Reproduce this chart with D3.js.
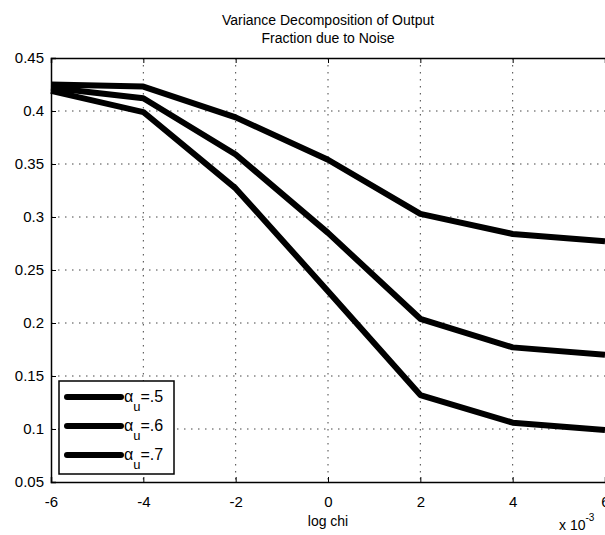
<!DOCTYPE html>
<html>
<head>
<meta charset="utf-8">
<script src="https://cdn.jsdelivr.net/npm/d3@7"></script>
<style>
  body { margin: 0; background: #fff; }
  svg { display: block; font-family: "Liberation Sans", Arial, sans-serif; }
  .grid line { stroke: #444; stroke-width: 1; stroke-dasharray: 1.5,5.5; }
</style>
</head>
<body>
<div id="chart"></div>
<script>
var xValues = [-6, -4, -2, 0, 2, 4, 6];
var alpha5 = [0.425, 0.423, 0.394, 0.354, 0.303, 0.284, 0.277];
var alpha6 = [0.422, 0.412, 0.359, 0.285, 0.204, 0.177, 0.170];
var alpha7 = [0.419, 0.399, 0.327, 0.230, 0.132, 0.106, 0.099];
var seriesNames = [".5", ".6", ".7"];
var xTicks = [-6, -4, -2, 0, 2, 4, 6];
var yTicks = [0.05, 0.1, 0.15, 0.2, 0.25, 0.3, 0.35, 0.4, 0.45];

var width = 605, height = 535;
var margin = {top: 58, right: 0, bottom: 53, left: 51};

var svg = d3.select('#chart').append('svg')
    .attr('width', width)
    .attr('height', height);

var x = d3.scaleLinear().domain([-6, 6]).range([margin.left, 605]);
var y = d3.scaleLinear().domain([0.05, 0.45]).range([height - margin.bottom, margin.top]);

// grid
var grid = svg.append('g').attr('class', 'grid');
grid.selectAll('.gx').data(xTicks.slice(1, -1)).enter().append('line')
    .attr('x1', function(d) { return x(d); }).attr('x2', function(d) { return x(d); })
    .attr('y1', y(0.45)).attr('y2', y(0.05));
grid.selectAll('.gy').data(yTicks.slice(1, -1)).enter().append('line')
    .attr('y1', function(d) { return y(d); }).attr('y2', function(d) { return y(d); })
    .attr('x1', x(-6)).attr('x2', x(6));

// lines
var series = [alpha5, alpha6, alpha7];
var line = d3.line()
    .x(function(d, i) { return x(xValues[i]); })
    .y(function(d) { return y(d); });

svg.selectAll('.series').data(series).enter().append('path')
    .attr('class', 'series')
    .attr('d', line)
    .attr('fill', 'none')
    .attr('stroke', '#000')
    .attr('stroke-width', 6)
    .attr('stroke-linejoin', 'round');

// axes (ticks inward, like matlab)
var xAxis = d3.axisBottom(x).tickValues(xTicks).tickSize(-5).tickPadding(14)
    .tickFormat(function(d) { return d; });
var yAxis = d3.axisLeft(y).tickValues(yTicks).tickSize(-5).tickPadding(7)
    .tickFormat(function(d) { return d3.format('')(+d.toFixed(2)); });
var xTop = d3.axisTop(x).tickValues(xTicks).tickSize(-5).tickFormat('');

svg.append('g')
    .attr('transform', 'translate(0,' + y(0.05) + ')')
    .call(xAxis);
svg.append('g')
    .attr('transform', 'translate(' + x(-6) + ',0)')
    .call(yAxis);
svg.append('g')
    .attr('transform', 'translate(0,' + y(0.45) + ')')
    .call(xTop);

svg.selectAll('.domain').attr('stroke', '#000').attr('stroke-width', 1.5);
svg.selectAll('.tick line').attr('stroke', '#000');
svg.selectAll('.tick text').attr('font-size', 15).attr('fill', '#000')
    .attr('font-family', '"Liberation Sans", Arial, sans-serif');

// title
var title = svg.append('text')
    .attr('text-anchor', 'middle')
    .attr('font-size', 14)
    .attr('x', 328);
title.append('tspan').attr('x', 328).attr('y', 25).text('Variance Decomposition of Output');
title.append('tspan').attr('x', 328).attr('y', 43).text('Fraction due to Noise');

// x label
svg.append('text')
    .attr('x', 328).attr('y', 526)
    .attr('text-anchor', 'middle')
    .attr('font-size', 14)
    .text('log chi');

var mult = svg.append('text')
    .attr('x', 559).attr('y', 530)
    .attr('font-size', 14);
mult.append('tspan').text('x 10');
mult.append('tspan').attr('dy', -9).attr('font-size', 10).text('-3');

// legend
var legend = svg.append('g');
legend.append('rect')
    .attr('x', 59).attr('y', 381)
    .attr('width', 115).attr('height', 93)
    .attr('fill', '#fff')
    .attr('stroke', '#000')
    .attr('stroke-width', 1.5);

var items = legend.selectAll('.item').data(seriesNames).enter().append('g')
    .attr('transform', function(d, i) { return 'translate(0,' + (397 + i * 29) + ')'; });
items.append('line')
    .attr('x1', 67).attr('x2', 121)
    .attr('stroke', '#000').attr('stroke-width', 6)
    .attr('stroke-linecap', 'round');
var lt = items.append('text')
    .attr('x', 124).attr('y', 5)
    .attr('font-size', 16);
lt.append('tspan').text('\u03B1');
lt.append('tspan').attr('dy', 9).attr('font-size', 13).text('u');
lt.append('tspan').attr('dy', -9).text(function(d) { return '=' + d; });
</script>
</body>
</html>
